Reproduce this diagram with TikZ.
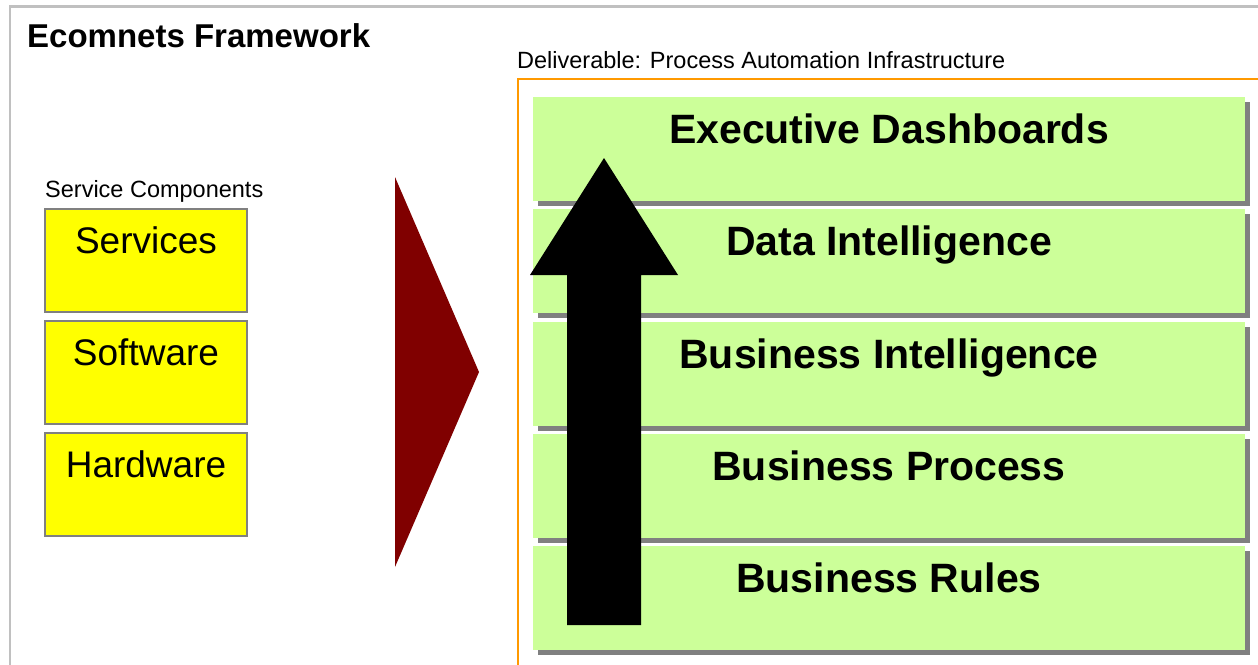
\documentclass[tikz,border=0pt]{standalone}
\usepackage{fontspec}
\setmainfont{Liberation Sans}
\usetikzlibrary{shadows}

\definecolor{layergreen}{HTML}{CCFF99}
\definecolor{partyellow}{HTML}{FFFF00}
\definecolor{shadowgray}{HTML}{808080}
\definecolor{framegray}{HTML}{C0C0C0}
\definecolor{frameorange}{HTML}{FF9900}
\definecolor{wedgered}{HTML}{800000}

\begin{document}
\begin{tikzpicture}[x = 1pt, y = -1pt,
  layer/.style = {fill = layergreen, minimum width = 712pt, minimum height = 104pt, inner sep = 0pt,
    drop shadow = {shadow xshift = 5pt, shadow yshift = -5pt, fill = shadowgray, opacity = 1}},
  layertext/.style = {anchor = base, inner sep = 0pt, font = \fontsize{41}{41}\selectfont\bfseries},
  part/.style = {draw = shadowgray, line width = 1.5pt, fill = partyellow, minimum width = 202pt, minimum height = 103pt, inner sep = 0pt},
  parttext/.style = {anchor = base, inner sep = 0pt, font = \fontsize{37}{37}\selectfont}]
\useasboundingbox (0, 0) rectangle (1258, 664);

% outer frames
\draw [framegray, line width = 2.5pt] (10, 700) -- (10, 6.5) -- (1270, 6.5);
\draw [frameorange, line width = 2pt] (518, 700) -- (518, 79) -- (1270, 79);

\node [anchor = base west, inner sep = 0pt, font = \fontsize{33}{33}\selectfont\bfseries] (title) at (27, 47) {Ecomnets Framework};
\node [anchor = base west, inner sep = 0pt, font = \fontsize{23.5}{24}\selectfont] (deliv) at (517, 68) {Deliverable: Process Automation Infrastructure};
\node [anchor = base west, inner sep = 0pt, font = \fontsize{23.5}{24}\selectfont] (comps) at (45, 197) {Service Components};

% service components
\node [part] (services) at (146, 260.5) {};
\node [part] (software) at (146, 372.5) {};
\node [part] (hardware) at (146, 484.5) {};
\node [parttext] (servicesl) at (146, 253) {Services};
\node [parttext] (softwarel) at (146, 365) {Software};
\node [parttext] (hardwarel) at (146, 477) {Hardware};

% wedge
\fill [wedgered] (395, 177) -- (479, 372) -- (395, 567) -- cycle;

% layers
\node [layer] (dash) at (889, 149) {};
\node [layer] (dataint) at (889, 261) {};
\node [layer] (busint) at (889, 374) {};
\node [layer] (busproc) at (889, 486) {};
\node [layer] (busrules) at (889, 598) {};

% big arrow
\fill [black] (567, 625) -- (567, 275) -- (530, 275) -- (604, 158) -- (678, 275) -- (641, 275) -- (641, 625) -- cycle;

\node [layertext] (dashl) at (889, 143) {Executive Dashboards};
\node [layertext] (dataintl) at (889, 255) {Data Intelligence};
\node [layertext] (busintl) at (889, 368) {Business Intelligence};
\node [layertext] (busprocl) at (889, 480) {Business Process};
\node [layertext] (busrulesl) at (889, 592) {Business Rules};
\end{tikzpicture}
\end{document}
